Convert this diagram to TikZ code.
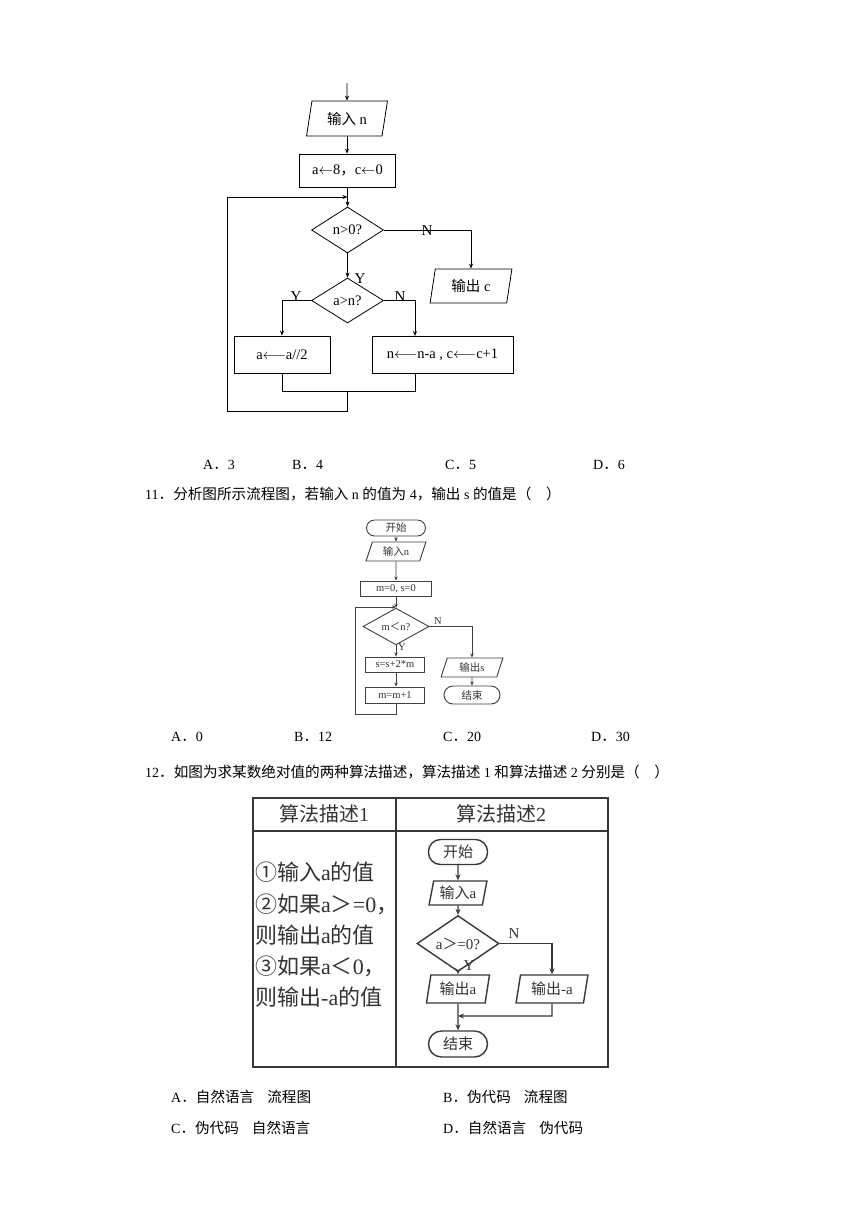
\documentclass[tikz,border=0pt]{standalone}
\usepackage{fontspec}
\setmainfont{Liberation Serif}
\newfontfamily\cjk{Noto Sans CJK SC}
\usetikzlibrary{shapes.geometric,arrows.meta,calc}
\newcommand\zh[1]{{\cjk #1}}
\newcommand\zq[1]{{\cjk\fontsize{14.6}{16}\selectfont #1}}
\begin{document}
\begin{tikzpicture}[x=1pt,y=-1pt,
  ln1/.style={line width=0.8pt, draw=black},
  ar1/.style={-{Stealth[length=5pt,width=4pt]}},
  f1/.style={font=\fontsize{14.5}{16}\selectfont},
  rect1/.style={draw=black, line width=0.8pt, rectangle, inner sep=0pt, f1},
  para1/.style={draw=black, line width=0.8pt, shape=trapezium, trapezium stretches=true, inner sep=0pt, f1},
  dia1/.style={draw=black, line width=0.8pt, shape=diamond, inner sep=0pt, f1},
  lab1/.style={inner sep=0pt, font=\fontsize{15}{17}\selectfont},
  ln2/.style={line width=0.9pt, draw=black!75},
  ar2/.style={-{Stealth[length=4pt,width=3.5pt]}},
  f2/.style={font=\fontsize{10.5}{12}\selectfont, text=black!80},
  rect2/.style={draw=black!75, line width=0.9pt, rectangle, inner sep=0pt, f2},
  para2/.style={draw=black!75, line width=0.9pt, shape=trapezium, trapezium stretches=true, inner sep=0pt, f2},
  dia2/.style={draw=black!75, line width=0.9pt, shape=diamond, inner sep=0pt, f2},
  term2/.style={draw=black!75, line width=0.9pt, rectangle, rounded corners=8pt, inner sep=0pt, f2},
  lab2/.style={inner sep=0pt, font=\fontsize{10.5}{12}\selectfont, text=black!80},
  ln3/.style={line width=1.4pt, draw=black!78},
  ar3/.style={-{Stealth[length=6pt,width=5pt]}},
  f3/.style={font=\fontsize{15}{17}\selectfont, text=black!80},
  para3/.style={draw=black!78, line width=1.4pt, shape=trapezium, trapezium stretches=true, inner sep=0pt, f3},
  dia3/.style={draw=black!78, line width=1.4pt, shape=diamond, inner sep=0pt, f3},
  term3/.style={draw=black!78, line width=1.4pt, rectangle, rounded corners=12pt, inner sep=0pt, f3},
  lab3/.style={inner sep=0pt, font=\fontsize{15}{17}\selectfont, text=black!80},
  hd3/.style={inner sep=0pt, font=\fontsize{20}{23}\selectfont, text=black!80},
  lt3/.style={inner sep=0pt, anchor=west, font=\fontsize{22}{25}\selectfont, text=black!80},
  qt/.style={inner sep=0pt, anchor=west, font=\fontsize{14}{16}\selectfont}
]
\fill[white] (0,0) rectangle (860,1216);
\useasboundingbox (0,0) rectangle (860,1216);

% ---------------- Diagram 1 ----------------
\coordinate (s1) at (347,83);
\node[para1, trapezium left angle=77, trapezium right angle=103, minimum width=81pt, minimum height=35pt] (in1) at (347,118.5) {\zh{输入} n};
\node[rect1, minimum width=96pt, minimum height=33pt] (init1) at (347.5,170.5) {a$\leftarrow$8\zh{，}c$\leftarrow$0};
\node[dia1, minimum width=72pt, minimum height=46pt] (d1) at (347.5,230) {n>0?};
\node[dia1, minimum width=72pt, minimum height=45pt] (d2) at (347.5,300.5) {a>n?};
\node[para1, trapezium left angle=78, trapezium right angle=102, minimum width=82pt, minimum height=34pt] (out1) at (471,286) {\zh{输出} c};
\node[rect1, minimum width=96pt, minimum height=37pt] (r1) at (282,354.5) {a$\longleftarrow$a//2};
\node[rect1, minimum width=141pt, minimum height=37pt] (r2) at (442.5,354.5) {n$\longleftarrow$n-a , c$\longleftarrow$c+1};
\coordinate (r2in) at (415,336);
\coordinate (r2out) at (415,373);
\coordinate (j1) at (347.5,391);
\coordinate (j2) at (347.5,411);
\coordinate (j3) at (227,411);
\coordinate (j4) at (227,197);
\coordinate (j5) at (347.5,197);

\draw[ln1,ar1] (s1) -- (in1.north);
\draw[ln1,ar1] (in1.south) -- (in1.south |- init1.north);
\draw[ln1,ar1] (init1.south) -- (d1.north);
\draw[ln1,ar1] (d1.south) -- (d2.north);
\draw[ln1,ar1] (d1.east) -| (out1.north);
\draw[ln1,ar1] (d2.west) -| (r1.north);
\draw[ln1,ar1] (d2.east) -| (r2in);
\draw[ln1] (r1.south) |- (j1);
\draw[ln1] (r2out) |- (j1);
\draw[ln1,ar1] (j1) -- (j2) -- (j3) -- (j4) -- (j5);
\node[lab1] (n1) at (427,231) {N};
\node[lab1] (y1) at (360,279) {Y};
\node[lab1] (y2) at (296,297) {Y};
\node[lab1] (n2) at (400,297) {N};

% ---------------- Q10 options, Q11 ----------------
\node[qt] (q10a) at (203,465) {A\zq{．}3};
\node[qt] (q10b) at (292,465) {B\zq{．}4};
\node[qt] (q10c) at (445,465) {C\zq{．}5};
\node[qt] (q10d) at (593,465) {D\zq{．}6};
\node[qt] (q11) at (145,494) {11\zq{．分析图所示流程图，若输入} n \zq{的值为} 4\zq{，输出} s \zq{的值是（　）}};

% ---------------- Diagram 2 ----------------
\node[term2, minimum width=59pt, minimum height=16pt] (st2) at (396,528) {\zh{开始}};
\node[para2, trapezium left angle=70, trapezium right angle=110, minimum width=60pt, minimum height=19pt] (in2) at (396,551.5) {\zh{输入}n};
\node[rect2, minimum width=71pt, minimum height=15pt] (init2) at (396,588.5) {m=0, s=0};
\node[dia2, minimum width=66pt, minimum height=28pt] (d3) at (396,626.5) {m\zh{＜}n?};
\node[rect2, minimum width=59pt, minimum height=15pt] (r3) at (395,664.5) {s=s+2*m};
\node[rect2, minimum width=59pt, minimum height=16pt] (r4) at (395,695) {m=m+1};
\node[para2, trapezium left angle=72, trapezium right angle=108, minimum width=62pt, minimum height=19pt] (out2) at (472,667.5) {\zh{输出}s};
\node[term2, minimum width=56pt, minimum height=18pt, rounded corners=9pt] (end2) at (472,695) {\zh{结束}};
\coordinate (k1) at (396,714);
\coordinate (k2) at (355,714);
\coordinate (k3) at (355,607);
\coordinate (k4) at (396,607);

\draw[ln2,ar2] (st2.south) -- (in2.north);
\draw[ln2,ar2] (in2.south) -- (init2.north);
\draw[ln2,ar2] (init2.south) -- (d3.north);
\draw[ln2,ar2] (d3.south) -- (d3.south |- r3.north);
\draw[ln2,ar2] (d3.south |- r3.south) -- (d3.south |- r4.north);
\draw[ln2,ar2] (d3.south |- r4.south) -- (k1) -- (k2) -- (k3) -- (k4);
\draw[ln2,ar2] (d3.east) -| (out2.north);
\draw[ln2,ar2] (out2.south) -- (end2.north);
\node[lab2] (n3) at (438,621) {N};
\node[lab2] (y3) at (402,647) {Y};

% ---------------- Q11 options, Q12 ----------------
\node[qt] (q11a) at (171,737) {A\zq{．}0};
\node[qt] (q11b) at (294,737) {B\zq{．}12};
\node[qt] (q11c) at (443,737) {C\zq{．}20};
\node[qt] (q11d) at (591,737) {D\zq{．}30};
\node[qt] (q12) at (145,772) {12\zq{．如图为求某数绝对值的两种算法描述，算法描述} 1 \zq{和算法描述} 2 \zq{分别是（　）}};

% ---------------- Diagram 3 (table) ----------------
\draw[line width=1.8pt, draw=black!78] (253,798) rectangle (608,1067);
\draw[ln3] (253,831) -- (608,831);
\draw[ln3] (396,798) -- (396,1067);
\node[hd3] (h1) at (324,814) {\zh{算法描述}1};
\node[hd3] (h2) at (501,814) {\zh{算法描述}2};
\node[lt3] (l1) at (255,872) {\zh{①输入}a\zh{的值}};
\node[lt3] (l2) at (255,904) {\zh{②如果}a\zh{＞}=0\zh{，}};
\node[lt3] (l3) at (255,935) {\zh{则输出}a\zh{的值}};
\node[lt3] (l4) at (255,966) {\zh{③如果}a\zh{＜}0\zh{，}};
\node[lt3] (l5) at (255,997) {\zh{则输出}-a\zh{的值}};

\node[term3, minimum width=59pt, minimum height=25pt] (st3) at (458,852) {\zh{开始}};
\node[para3, trapezium left angle=76, trapezium right angle=104, minimum width=58pt, minimum height=24pt] (in3) at (458,893) {\zh{输入}a};
\node[dia3, minimum width=82pt, minimum height=33pt] (d4) at (458,943.5) {a\zh{＞}=0?};
\node[para3, trapezium left angle=78, trapezium right angle=102, minimum width=63pt, minimum height=28pt] (o3a) at (458,989) {\zh{输出}a};
\node[para3, trapezium left angle=78, trapezium right angle=102, minimum width=72pt, minimum height=28pt] (o3b) at (552,989) {\zh{输出}-a};
\node[term3, minimum width=59pt, minimum height=26pt, rounded corners=13pt] (end3) at (458,1044) {\zh{结束}};
\coordinate (g1) at (552,1016);
\coordinate (g2) at (458,1016);

\draw[ln3,ar3] (st3.south) -- (in3.north);
\draw[ln3,ar3] (in3.south) -- (d4.north);
\draw[ln3,ar3] (d4.south) -- (o3a.north);
\draw[ln3,ar3] (d4.east) -| (o3b.north);
\draw[ln3,ar3] (o3b.south) -- (g1) -- (g2);
\draw[ln3,ar3] (o3a.south) -- (end3.north);
\node[lab3] (n4) at (514,934) {N};
\node[lab3] (y4) at (469,966) {Y};

% ---------------- Q12 options ----------------
\node[qt] (q12a) at (171,1097) {A\zq{．自然语言}\hspace{13pt}\zq{流程图}};
\node[qt] (q12b) at (443,1097) {B\zq{．伪代码}\hspace{13pt}\zq{流程图}};
\node[qt] (q12c) at (171,1128) {C\zq{．伪代码}\hspace{13pt}\zq{自然语言}};
\node[qt] (q12d) at (443,1128) {D\zq{．自然语言}\hspace{13pt}\zq{伪代码}};
\end{tikzpicture}
\end{document}
